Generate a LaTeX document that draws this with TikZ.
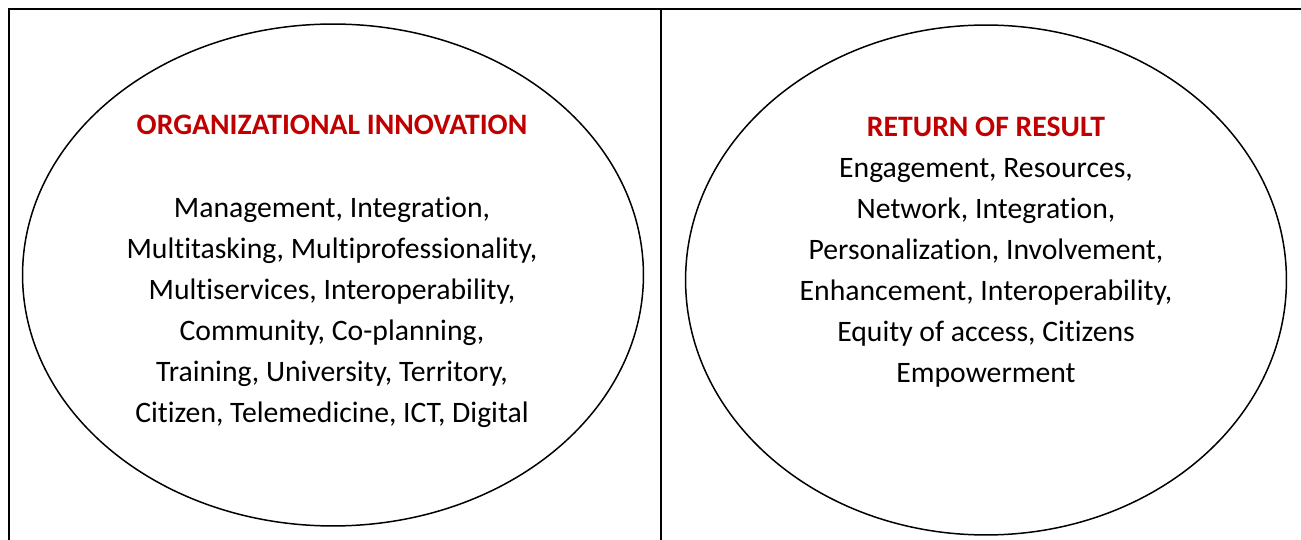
\documentclass[tikz,border=0pt]{standalone}
\usepackage{fontspec}
\setmainfont[Ligatures=NoCommon]{Carlito}
\usepackage{xcolor}
\usepackage{tikz}
\usetikzlibrary{shapes.geometric, positioning}
\definecolor{headred}{RGB}{192,0,0}
\tikzstyle{frame} = [line width=1.15pt, draw=black]
\tikzstyle{oval} = [ellipse, draw=black, line width=0.85pt, inner sep=0pt]
\tikzstyle{head} = [font=\fontsize{16.9}{19}\selectfont\bfseries, text=headred]
\tikzstyle{body} = [align=center, font=\fontsize{16.9}{23.3}\selectfont]

\begin{document}
\begin{tikzpicture}[x=0.02cm, y=-0.02cm]
    \useasboundingbox (0,0) rectangle (1301,540);
    % table cells, open at the bottom and right
    \coordinate (tl) at (9,9);
    \coordinate (tm) at (661,9);
    \coordinate (tr) at (1301,9);
    \coordinate (bl) at (9,540);
    \coordinate (bm) at (661,540);
    \draw[frame] (bl) -- (tl) -- (tr);
    \draw[frame] (tm) -- (bm);
    % left cell
    \node[oval, minimum width=12.42cm, minimum height=10.04cm] (orgoval) at (333,275) {};
    \node[head] (orghead) at (332,125) {ORGANIZATIONAL INNOVATION};
    \node[body] (orgtext) at (332,312) {Management, Integration,\\
        Multitasking, Multiprofessionality,\\
        Multiservices, Interoperability,\\
        Community, Co-planning,\\
        Training, University, Territory,\\
        Citizen, Telemedicine, ICT, Digital};
    % right cell
    \node[oval, minimum width=12.02cm, minimum height=10.2cm] (resoval) at (986,280) {};
    \node[head] (reshead) at (986,127) {RETURN OF RESULT};
    \node[body] (restext) at (986,273) {Engagement, Resources,\\
        Network, Integration,\\
        Personalization, Involvement,\\
        Enhancement, Interoperability,\\
        Equity of access, Citizens\\
        Empowerment};
\end{tikzpicture}
\end{document}
